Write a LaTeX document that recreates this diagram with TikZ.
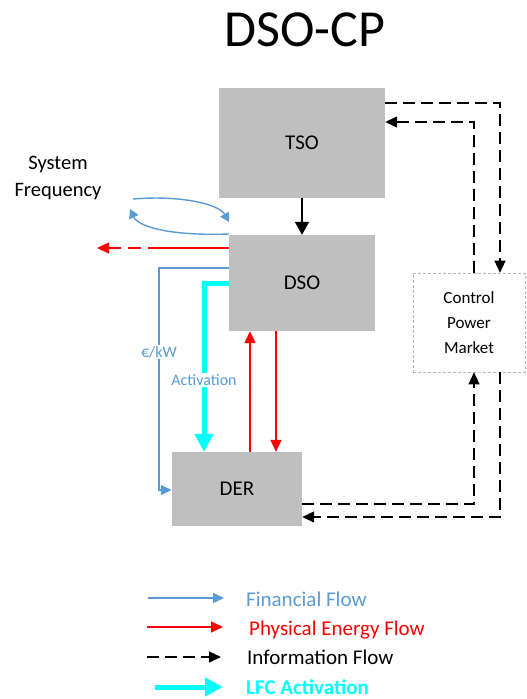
\documentclass[tikz,border=0pt]{standalone}
\usepackage{fontspec}
\setmainfont{Carlito}
\usetikzlibrary{arrows.meta,calc}
\definecolor{fblue}{HTML}{5B9BD5}
\definecolor{boxgray}{HTML}{BFBFBF}
\definecolor{cyanc}{HTML}{00FFFF}
\begin{document}
\begin{tikzpicture}[x=1pt,y=-1pt,
  blk/.style={fill=boxgray, draw=none, inner sep=0pt, font=\fontsize{21}{25}\selectfont},
  mkt/.style={draw=gray!55, densely dashed, line width=0.6pt, inner sep=0pt, align=center, font=\fontsize{17}{25}\selectfont},
  fin/.style={draw=fblue, line width=1.4pt, -{Triangle[length=11pt,width=10pt]}},
  phys/.style={draw=red, line width=1.4pt, -{Triangle[length=12pt,width=11pt]}},
  info/.style={draw=black, line width=1.4pt, dash pattern=on 12pt off 6pt, -{Triangle[length=12pt,width=11pt]}},
  blkarrow/.style={draw=black, line width=1.4pt, -{Triangle[length=13pt,width=14pt]}},
  lfc/.style={draw=cyanc, line width=5pt, -{Triangle[length=18pt,width=18pt]}},
  lbl/.style={fill=white, text=fblue, inner sep=1pt, font=\fontsize{16}{18}\selectfont},
  legtext/.style={anchor=base west, inner sep=0pt, font=\fontsize{21}{25}\selectfont},
]
\useasboundingbox (0,0) rectangle (527,699);

% title
\node[inner sep=0pt] (title) at (305,29.5) {\fontsize{52}{60}\selectfont DSO-CP};

% boxes
\node[blk, minimum width=166pt, minimum height=110pt] (tso) at (302,143) {TSO};
\node[blk, minimum width=146pt, minimum height=96pt] (dso) at (302,283) {DSO};
\node[blk, minimum width=130pt, minimum height=74pt] (der) at (237,489) {DER};
\node[mkt, minimum width=112pt, minimum height=99pt] (cpm) at (469,322.5) {Control\\Power\\Market};

% system frequency
\node[anchor=north, inner sep=0pt, align=center, font=\fontsize{20.5}{27}\selectfont] (sysf) at (58,156) {System\\Frequency};

% helper coordinates
\coordinate (xA) at (500,0);
\coordinate (xB) at (474,0);
\coordinate (xU) at (250,0);
\coordinate (xD) at (276,0);
\coordinate (xC) at (204,0);
\coordinate (y1) at (0,103);
\coordinate (y2) at (0,122);
\coordinate (y3) at (0,504);
\coordinate (y4) at (0,517);
\coordinate (yR) at (0,248);
\coordinate (yF) at (0,268);
\coordinate (fc) at (159,490);
\coordinate (rmid) at (161,248);
\coordinate (rend) at (97,248);
\coordinate (sfa) at (133,199);
\coordinate (sfb) at (229,222);
\coordinate (sfc) at (229,234);
\coordinate (sfd) at (130,209);

% TSO -> DSO
\draw[blkarrow] (tso.south) -- (dso.north);

% information flows
\draw[info] (tso.east |- y1) -| (cpm.north -| xA);
\draw[info] (cpm.north -| xB) |- (tso.east |- y2);
\draw[info] (der.east |- y3) -| (cpm.south -| xB);
\draw[info] (cpm.south -| xA) |- (der.east |- y4);

% physical flows
\draw[phys] (der.north -| xU) -- (dso.south -| xU);
\draw[phys] (dso.south -| xD) -- (der.north -| xD);
\draw[red, line width=1.4pt] (dso.west |- yR) -- (rmid);
\draw[phys, dash pattern=on 13pt off 7pt] (rmid) -- (rend);

% financial flow
\draw[fin] (dso.west |- yF) -| (fc) -- (der.west |- fc);

% system frequency loop
\draw[fin, -{Triangle[length=9pt,width=10pt]}] (sfa) .. controls (180,195) and (219,204) .. (sfb);
\draw[fin, -{Triangle[length=9pt,width=10pt]}] (sfc) .. controls (175,236) and (139,228) .. (sfd);

% LFC activation
\draw[lfc] (dso.west) -| (der.north -| xC);

% labels
\node[lbl] (eur) at (159,352) {€/kW};
\node[lbl] (act) at (204,380) {Activation};

% legend
\coordinate (l1s) at (148,598); \coordinate (l1e) at (224,598);
\coordinate (l2s) at (147,627); \coordinate (l2e) at (223,627);
\coordinate (l3s) at (147,657); \coordinate (l3e) at (221,657);
\coordinate (l4s) at (155,687); \coordinate (l4e) at (223,687);
\draw[fin] (l1s) -- (l1e);
\draw[phys] (l2s) -- (l2e);
\draw[info] (l3s) -- (l3e);
\draw[lfc] (l4s) -- (l4e);
\node[legtext, text=fblue] (t1) at (246,606) {Financial Flow};
\node[legtext, text=red] (t2) at (249,635) {Physical Energy Flow};
\node[legtext, text=black] (t3) at (247,664) {Information Flow};
\node[legtext, text=cyanc, font=\fontsize{21}{25}\selectfont\bfseries] (t4) at (246,694) {LFC Activation};
\end{tikzpicture}
\end{document}
